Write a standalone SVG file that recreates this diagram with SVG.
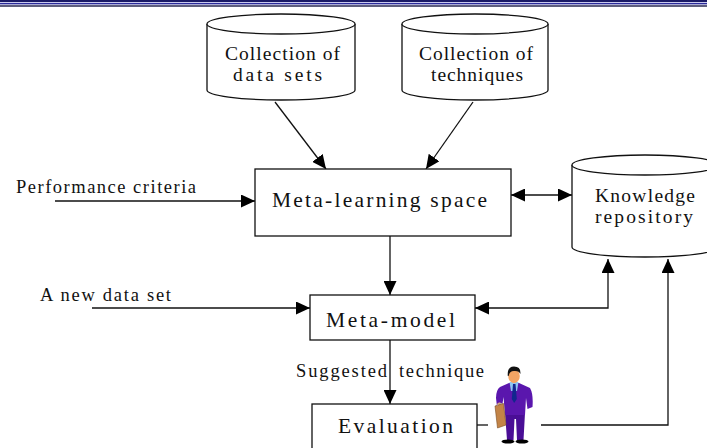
<svg xmlns="http://www.w3.org/2000/svg" width="707" height="448" viewBox="0 0 707 448">
  <defs>
    <style>
      .shape { fill: #fff; stroke: #111; stroke-width: 1.3; }
      .wire { fill: none; stroke: #111; stroke-width: 1.3; }
      .lbl { font-family: "Liberation Serif", "Times New Roman", serif; fill: #111; }
      .s17 { font-size: 18.5px; }
      .s18 { font-size: 19.5px; }
      .s20 { font-size: 21.5px; }
    </style>
    <marker id="arrow" viewBox="0 0 14 13" markerUnits="userSpaceOnUse" markerWidth="14" markerHeight="13" refX="14" refY="6.5" orient="auto-start-reverse">
      <path d="M0,0 L14,6.5 L0,13 Z" fill="#000"/>
    </marker>
  </defs>

  <!-- header stripes -->
  <rect x="0" y="0" width="707" height="2.2" fill="#1a1a66"/>
  <rect x="0" y="2.2" width="707" height="0.8" fill="#c8c8f0"/>
  <rect x="0" y="3" width="707" height="1.4" fill="#2a2a9c"/>
  <rect x="0" y="5" width="707" height="2" fill="#5e5e7e"/>

  <!-- connectors -->
  <g id="connectors">
    <line class="wire" x1="275" y1="102" x2="326" y2="169" marker-end="url(#arrow)"/>
    <line class="wire" x1="473" y1="102" x2="426" y2="169" marker-end="url(#arrow)"/>
    <line class="wire" x1="55" y1="201" x2="255" y2="201" marker-end="url(#arrow)"/>
    <line class="wire" x1="511" y1="195" x2="572" y2="195" marker-start="url(#arrow)" marker-end="url(#arrow)"/>
    <line class="wire" x1="390" y1="236" x2="390" y2="295" marker-end="url(#arrow)"/>
    <line class="wire" x1="92" y1="308" x2="310" y2="308" marker-end="url(#arrow)"/>
    <polyline class="wire" points="475,308 608,308 608,259" marker-start="url(#arrow)" marker-end="url(#arrow)"/>
    <line class="wire" x1="390" y1="340" x2="390" y2="404" marker-end="url(#arrow)"/>
    <line class="wire" x1="477" y1="425" x2="488" y2="425"/>
    <polyline class="wire" points="541,425 668,425 668,259" marker-end="url(#arrow)"/>
  </g>

  <!-- cylinder: collection of data sets -->
  <g id="datasets">
    <path class="shape" d="M207,24 A74,10 0 0 1 355,24 L355,90 A74,10 0 0 1 207,90 Z"/>
    <path class="shape" d="M207,24 A74,10 0 0 0 355,24" fill="none"/>
    <text class="lbl s18" x="225" y="60" textLength="115" lengthAdjust="spacing">Collection of</text>
    <text class="lbl s18" x="233" y="81" textLength="89" lengthAdjust="spacing">data sets</text>
  </g>

  <!-- cylinder: collection of techniques -->
  <g id="techniques">
    <path class="shape" d="M402,24 A73,10 0 0 1 548,24 L548,90 A73,10 0 0 1 402,90 Z"/>
    <path class="shape" d="M402,24 A73,10 0 0 0 548,24" fill="none"/>
    <text class="lbl s18" x="419" y="60" textLength="114" lengthAdjust="spacing">Collection of</text>
    <text class="lbl s18" x="431" y="81" textLength="92" lengthAdjust="spacing">techniques</text>
  </g>

  <!-- meta-learning space -->
  <g id="metaspace">
    <rect class="shape" x="255" y="169" width="256" height="67"/>
    <text class="lbl s20" x="272" y="207" textLength="215" lengthAdjust="spacing">Meta-learning space</text>
  </g>

  <!-- performance criteria input -->
  <g id="criteria">
    <text class="lbl s17" x="16" y="193" textLength="180" lengthAdjust="spacing">Performance criteria</text>
  </g>

  <!-- knowledge repository cylinder -->
  <g id="repository">
    <path class="shape" d="M572,165 A73,10 0 0 1 718,165 L718,247 A73,10 0 0 1 572,247 Z"/>
    <path class="shape" d="M572,165 A73,10 0 0 0 718,165" fill="none"/>
    <text class="lbl s18" x="595" y="202" textLength="100" lengthAdjust="spacing">Knowledge</text>
    <text class="lbl s18" x="595" y="223" textLength="98" lengthAdjust="spacing">repository</text>
  </g>

  <!-- new data set input -->
  <g id="newdata">
    <text class="lbl s17" x="40" y="301" textLength="131" lengthAdjust="spacing">A new data set</text>
  </g>

  <!-- meta-model -->
  <g id="metamodel">
    <rect class="shape" x="310" y="295" width="165" height="45"/>
    <text class="lbl s20" x="326" y="327" textLength="129" lengthAdjust="spacing">Meta-model</text>
  </g>

  <!-- suggested technique label -->
  <g id="suggested">
    <text class="lbl s17" y="377"><tspan x="296" textLength="91" lengthAdjust="spacing">Suggested</tspan><tspan x="399" textLength="85" lengthAdjust="spacing">technique</tspan></text>
  </g>

  <!-- evaluation -->
  <g id="evaluation">
    <rect class="shape" x="312" y="404" width="165" height="60"/>
    <text class="lbl s20" x="338" y="433" textLength="115" lengthAdjust="spacing">Evaluation</text>
  </g>

  <!-- user figure -->
  <g id="user">
    <!-- legs -->
    <path d="M505,413 L507,440 L513.5,440 L514.5,419 L516,419 L517,440 L523.5,440 L525,413 Z" fill="#4a0e96"/>
    <!-- shoes -->
    <ellipse cx="508" cy="441.5" rx="6.5" ry="2" fill="#000"/>
    <ellipse cx="522" cy="441.5" rx="6.5" ry="2" fill="#000"/>
    <!-- jacket -->
    <path d="M509,383 L500,387 Q496,390 496,398 L497,407 L502,407 L503.5,397 L505,415 L525,415 L526,398 L527.5,409 L532.5,407 Q533.5,394 530,388 L519,383 Z" fill="#5a16ad"/>
    <!-- shirt and tie -->
    <path d="M509.5,382 L518.5,382 L517,391 L511,391 Z" fill="#8ec6f2"/>
    <path d="M513,384 L515.5,384 L516.8,399 L514.2,403 L511.8,399 Z" fill="#12268e"/>
    <!-- head -->
    <ellipse cx="514" cy="376" rx="5.8" ry="7.2" fill="#f4a564"/>
    <path d="M507.8,376 Q507,366.5 514,366.5 Q521,366.5 520.4,374 Q519,370.5 514,371 Q509.5,371 508.6,376 Z" fill="#111"/>
    <!-- hand and briefcase -->
    <circle cx="499.5" cy="405" r="2.4" fill="#f4a564"/>
    <path d="M495,406 L503.5,403.5 L506,425 L497.5,428 Z" fill="#c38447" stroke="#7a4c22" stroke-width="0.6"/>
    <path d="M497,405.5 Q499,402 502,403.8" fill="none" stroke="#aaa" stroke-width="0.9"/>
  </g>
</svg>
